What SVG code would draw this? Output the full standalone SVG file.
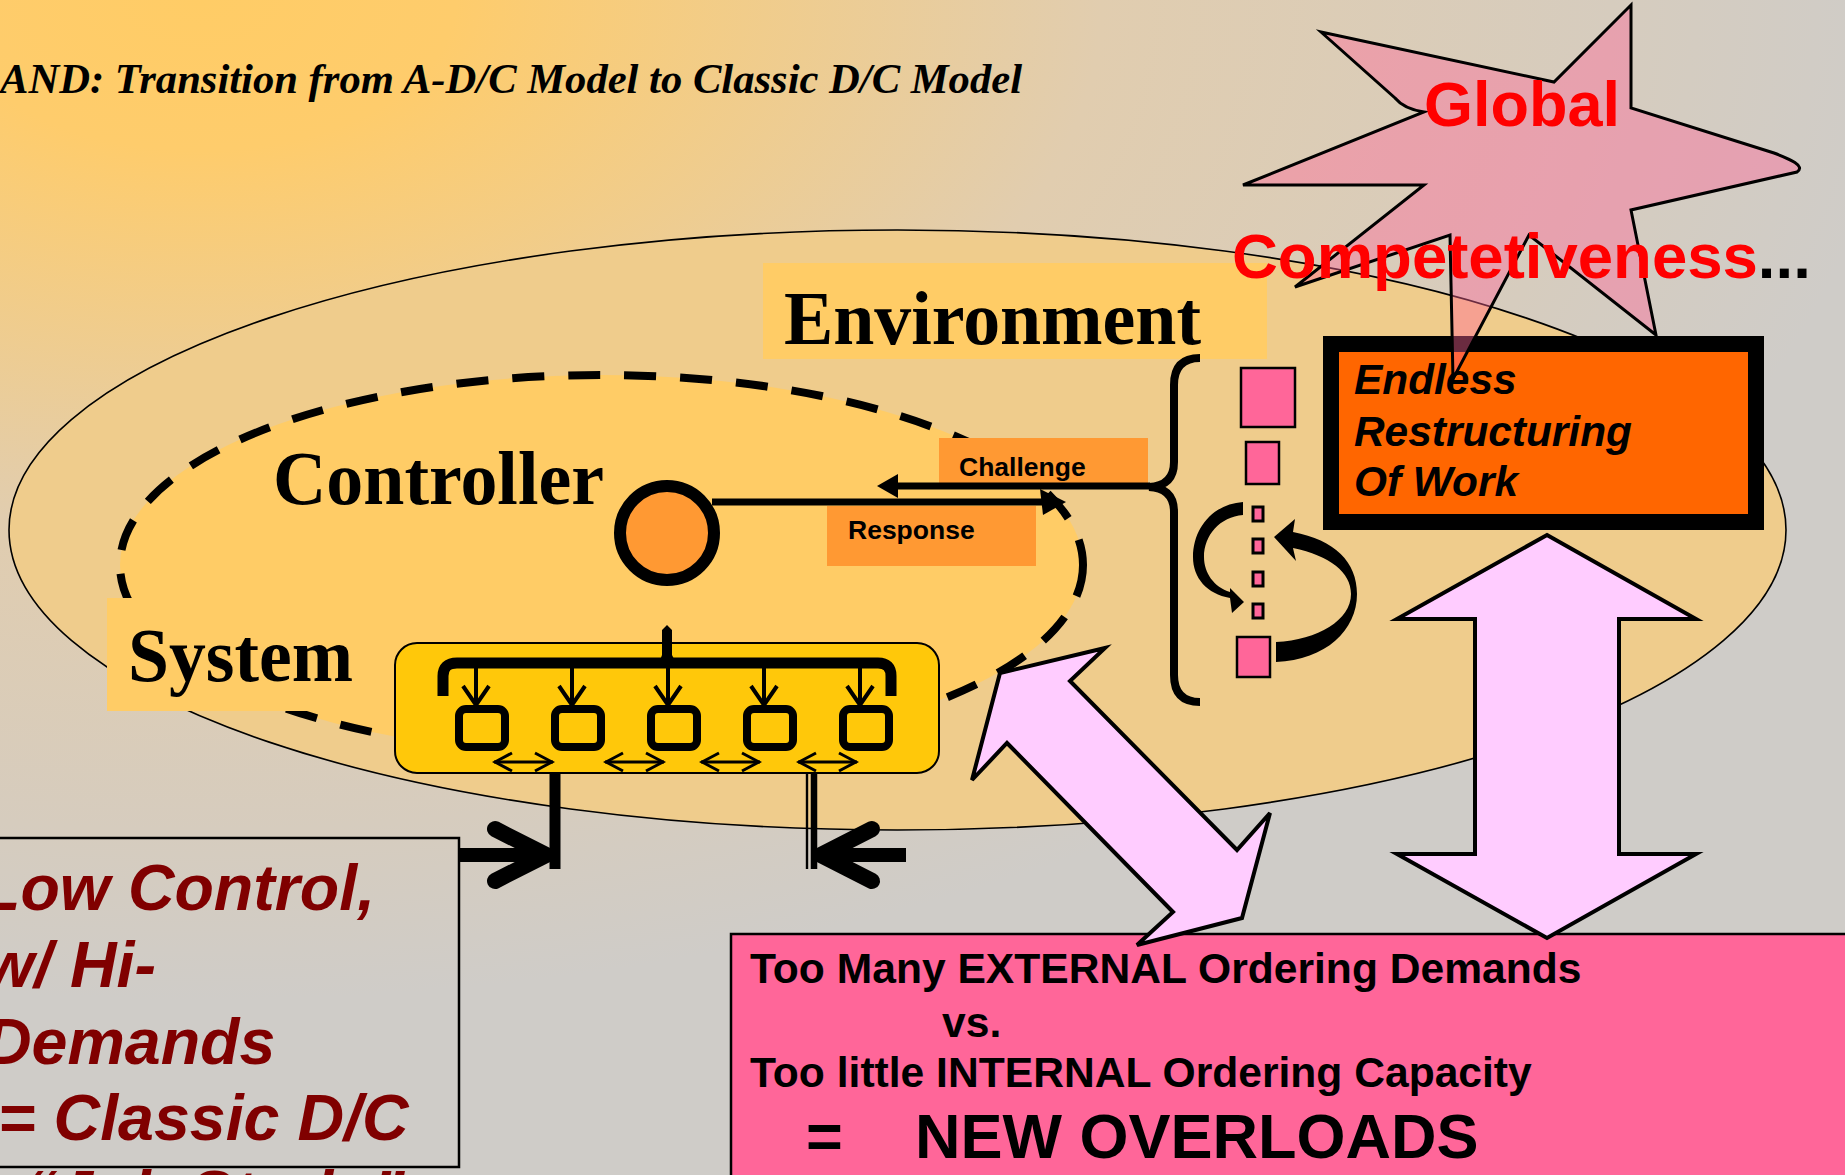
<svg xmlns="http://www.w3.org/2000/svg" width="1845" height="1175" viewBox="0 0 1845 1175">
  <defs>
    <radialGradient id="bgGrad" gradientUnits="userSpaceOnUse" cx="0" cy="0" r="1" gradientTransform="translate(200,0) scale(1700,1000)">
      <stop offset="0" stop-color="#FFCC66"/>
      <stop offset="0.15" stop-color="#FECC6C"/>
      <stop offset="0.53" stop-color="#E1CDAF"/>
      <stop offset="0.83" stop-color="#D6CCBE"/>
      <stop offset="1" stop-color="#CFCCC8"/>
    </radialGradient>
    <marker id="downHead" markerUnits="userSpaceOnUse" viewBox="0 0 24 30" refX="21" refY="15" markerWidth="24" markerHeight="30" orient="auto">
      <path d="M2,2 L21,15 L2,28" fill="none" stroke="#000" stroke-width="4"/>
    </marker>
    <marker id="sideHead" markerUnits="userSpaceOnUse" viewBox="0 0 22 22" refX="20" refY="11" markerWidth="22" markerHeight="22" orient="auto-start-reverse">
      <path d="M2,2 L19,11 L2,20" fill="none" stroke="#000" stroke-width="3"/>
    </marker>
    <style>
      .serif { font-family: "Liberation Serif", "Times New Roman", serif; font-weight: bold; }
      .sans { font-family: "Liberation Sans", Arial, sans-serif; font-weight: bold; }
      .label { fill: #FFCC66; }
      .tag { fill: #FF9933; }
      .sq { fill: #FF6699; stroke: #000; stroke-width: 2.5; }
      .sqs { fill: #FF6699; stroke: #000; stroke-width: 3; }
      .unit { fill: none; stroke: #000; stroke-width: 8; }
      .big { fill: #FFCCFF; stroke: #000; stroke-width: 4; stroke-linejoin: miter; }
      .redtxt { fill: #800000; font-style: italic; font-size: 64.5px; }
    </style>
  </defs>

  <!-- background -->
  <rect x="0" y="0" width="1845" height="1175" fill="url(#bgGrad)"/>

  <text id="title" class="serif" x="0" y="93" font-size="43" font-style="italic" textLength="1022" lengthAdjust="spacingAndGlyphs">AND: Transition from A-D/C Model to Classic D/C Model</text>

  <!-- environment -->
  <g id="environment">
    <ellipse cx="897.5" cy="530" rx="888.5" ry="300" fill="#EFCC8C" stroke="#000" stroke-width="1.6"/>
  </g>

  <!-- system boundary -->
  <g id="system-boundary">
    <ellipse cx="601.5" cy="565" rx="481.5" ry="190" fill="#FFCC66" stroke="#000" stroke-width="8" stroke-dasharray="32 24"/>
  </g>

  <g id="environment-label">
    <rect class="label" x="763" y="263" width="504" height="96"/>
    <text class="serif" x="784" y="344" font-size="76" textLength="417" lengthAdjust="spacingAndGlyphs">Environment</text>
  </g>

  <g id="controller-label">
    <text class="serif" x="273" y="504" font-size="76" textLength="331" lengthAdjust="spacingAndGlyphs">Controller</text>
  </g>

  <g id="system-label">
    <rect class="label" x="107" y="598" width="300" height="113"/>
    <text class="serif" x="128" y="681" font-size="76" textLength="225" lengthAdjust="spacingAndGlyphs">System</text>
  </g>

  <!-- system components -->
  <g id="system-units">
    <rect x="395" y="643" width="544" height="130" rx="22" fill="#FFC80A" stroke="#000" stroke-width="2"/>
    <rect class="unit" x="459" y="709" width="46" height="38" rx="7"/>
    <rect class="unit" x="555" y="709" width="46" height="38" rx="7"/>
    <rect class="unit" x="651" y="709" width="46" height="38" rx="7"/>
    <rect class="unit" x="747" y="709" width="46" height="38" rx="7"/>
    <rect class="unit" x="843" y="709" width="46" height="38" rx="7"/>
  </g>

  <g id="challenge-tag">
    <rect class="tag" x="939" y="438" width="209" height="50"/>
    <text class="sans" x="959" y="476" font-size="26.5">Challenge</text>
  </g>
  <g id="response-tag">
    <rect class="tag" x="827" y="506" width="209" height="60"/>
    <text class="sans" x="848" y="539" font-size="26.5">Response</text>
  </g>

  <g id="controller">
    <circle cx="667" cy="533" r="47" fill="#FF9933" stroke="#000" stroke-width="12"/>
  </g>

  <!-- environment elements -->
  <g id="brace">
    <path d="M1200,358 Q1174,358 1174,385 L1174,462 Q1174,486 1149,487 Q1174,488 1174,512 L1174,675 Q1174,702 1200,702" fill="none" stroke="#000" stroke-width="8"/>
  </g>
  <g id="env-items">
    <rect class="sq" x="1241" y="368" width="54" height="59"/>
    <rect class="sq" x="1246" y="442" width="33" height="42"/>
    <rect class="sqs" x="1253" y="507" width="10" height="14"/>
    <rect class="sqs" x="1253" y="539" width="10" height="14"/>
    <rect class="sqs" x="1253" y="572" width="10" height="14"/>
    <rect class="sqs" x="1253" y="604" width="10" height="14"/>
    <rect class="sq" x="1237" y="637" width="33" height="40"/>
  </g>

  <g id="restructuring">
    <rect x="1331" y="344" width="425" height="178" fill="#FF6600" stroke="#000" stroke-width="16"/>
    <text class="sans" font-size="42.4" font-style="italic">
      <tspan x="1354" y="394">Endless</tspan>
      <tspan x="1354" y="446">Restructuring</tspan>
      <tspan x="1354" y="496">Of Work</tspan>
    </text>
  </g>

  <g id="global-competitiveness">
    <path d="M1321,32 L1554,82 L1631,5 L1631,108 L1774,153 C1790,159 1806,166 1797,172 L1631,210 L1656,335 L1529,235 L1453,379 L1450,235 L1295,287 L1424,185 L1243,185 L1424,112 Q1404,109 1395,98 Z" fill="#FF6699" fill-opacity="0.42" stroke="#000" stroke-width="3"/>
    <text class="sans" x="1424" y="126" font-size="63" fill="#FF0000">Global</text>
    <text class="sans" x="1232" y="278" font-size="63.5" fill="#FF0000">Competetiveness<tspan fill="#000">...</tspan></text>
  </g>

  <g id="overloads">
    <rect x="731" y="934" width="1130" height="260" fill="#FF6699" stroke="#000" stroke-width="2.5"/>
    <text class="sans" x="750" y="983" font-size="42.6">Too Many EXTERNAL Ordering Demands</text>
    <text class="sans" x="942" y="1037" font-size="42.6">vs.</text>
    <text class="sans" x="750" y="1087" font-size="42.6">Too little INTERNAL Ordering Capacity</text>
    <text class="sans" x="806" y="1158" font-size="63">=</text>
    <text class="sans" x="915" y="1158" font-size="63">NEW OVERLOADS</text>
  </g>

  <g id="classic-dc">
    <rect x="-5" y="838" width="464" height="329" fill="none" stroke="#000" stroke-width="2.5"/>
    <text class="sans redtxt" x="-19" y="910">Low Control,</text>
    <text class="sans redtxt" x="-16" y="987">w/ Hi-</text>
    <text class="sans redtxt" x="-15" y="1064">Demands</text>
    <text class="sans redtxt" x="-2" y="1140">= Classic D/C</text>
    <text class="sans redtxt" x="25" y="1216">“Job Strain”</text>
  </g>

  <!-- connectors -->
  <g id="connectors">
    <!-- challenge from environment to controller -->
    <line x1="1150" y1="486" x2="896" y2="486" stroke="#000" stroke-width="7"/>
    <polygon points="877,486 898,474 898,498" fill="#000"/>
    <!-- response from controller to environment -->
    <line x1="712" y1="502" x2="1046" y2="502" stroke="#000" stroke-width="7"/>
    <polygon points="1066,502 1040,489 1043,515" fill="#000"/>

    <!-- controller distribution bracket -->
    <polygon points="659,663 662,655 662,630 667,625 672,630 672,655 676,663" fill="#000"/>
    <path d="M443,696 L443,676 Q443,663 457,663 L878,663 Q891,663 891,676 L891,696" fill="none" stroke="#000" stroke-width="11"/>
    <line x1="476" y1="668" x2="476" y2="705" stroke="#000" stroke-width="4" marker-end="url(#downHead)"/>
    <line x1="572" y1="668" x2="572" y2="705" stroke="#000" stroke-width="4" marker-end="url(#downHead)"/>
    <line x1="668" y1="668" x2="668" y2="705" stroke="#000" stroke-width="4" marker-end="url(#downHead)"/>
    <line x1="764" y1="668" x2="764" y2="705" stroke="#000" stroke-width="4" marker-end="url(#downHead)"/>
    <line x1="860" y1="668" x2="860" y2="705" stroke="#000" stroke-width="4" marker-end="url(#downHead)"/>

    <!-- links between units -->
    <line x1="494" y1="762" x2="553" y2="762" stroke="#000" stroke-width="3" marker-start="url(#sideHead)" marker-end="url(#sideHead)"/>
    <line x1="605" y1="762" x2="664" y2="762" stroke="#000" stroke-width="3" marker-start="url(#sideHead)" marker-end="url(#sideHead)"/>
    <line x1="701" y1="762" x2="760" y2="762" stroke="#000" stroke-width="3" marker-start="url(#sideHead)" marker-end="url(#sideHead)"/>
    <line x1="798" y1="762" x2="857" y2="762" stroke="#000" stroke-width="3" marker-start="url(#sideHead)" marker-end="url(#sideHead)"/>

    <!-- pressure arrows under the system -->
    <line x1="555" y1="773" x2="555" y2="869" stroke="#000" stroke-width="11"/>
    <line x1="807" y1="773" x2="807" y2="869" stroke="#000" stroke-width="2.4"/>
    <line x1="814" y1="773" x2="814" y2="869" stroke="#000" stroke-width="6.5"/>
    <line x1="459" y1="855" x2="546" y2="855" stroke="#000" stroke-width="14"/>
    <polyline points="495,829 546,855 495,881" fill="none" stroke="#000" stroke-width="16" stroke-linecap="round" stroke-linejoin="round"/>
    <line x1="820" y1="855" x2="906" y2="855" stroke="#000" stroke-width="14"/>
    <polyline points="872,829 821,855 872,881" fill="none" stroke="#000" stroke-width="16" stroke-linecap="round" stroke-linejoin="round"/>

    <!-- reordering loop in the environment -->
    <path d="M1243,502 C1213,504 1193,528 1193,557 C1193,578 1207,594 1230,598 L1232,613 L1244,602 L1230,588 L1230,592 C1214,587 1204,573 1204,557 C1204,535 1220,517 1243,515 Z" fill="#000"/>
    <path d="M1295,519 L1274,537 L1296,561 L1293,548 C1330,556 1351,572 1351,594 C1351,620 1318,640 1276,642 L1276,662 C1326,660 1357,630 1357,594 C1357,562 1335,540 1293,532 Z" fill="#000"/>

    <!-- two-way pressure arrows -->
    <polygon class="big" points="1547,535 1696,619 1619,619 1619,854 1696,854 1547,938 1397,854 1475,854 1475,619 1397,619"/>
    <polygon class="big" points="1000,673 1105,648 1070,681 1237,850 1270,813 1242,918 1137,945 1173,912 1007,743 972,780" stroke-width="3.5"/>
  </g>
</svg>
